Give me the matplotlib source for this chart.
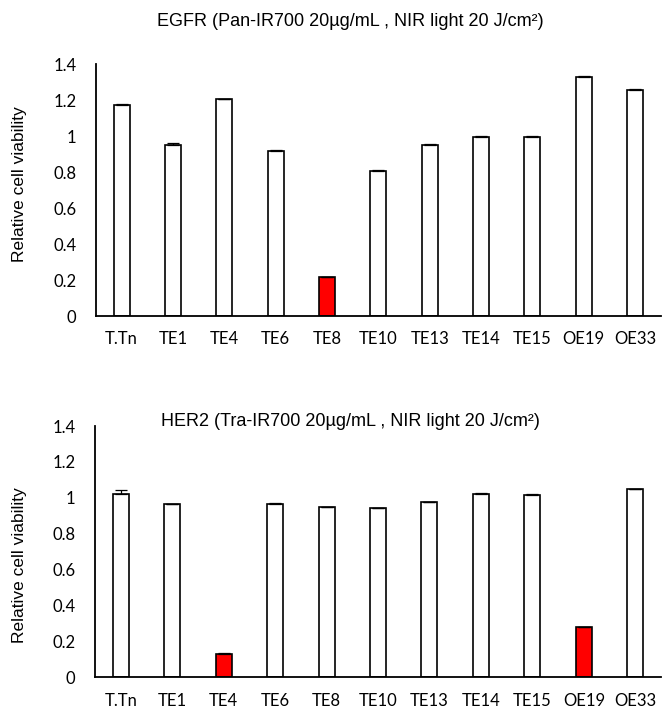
import numpy as np
import matplotlib
matplotlib.use("Agg")
import matplotlib.pyplot as plt

# Cell lines on the x axis (same order for both panels)
cell_lines = ['T.Tn', 'TE1', 'TE4', 'TE6', 'TE8', 'TE10', 'TE13', 'TE14', 'TE15', 'OE19', 'OE33']

# EGFR panel (Pan-IR700)
egfr_values = [1.172, 0.952, 1.205, 0.917, 0.215, 0.804, 0.952, 0.993, 0.996, 1.329, 1.257]
egfr_errors = [0.005, 0.010, 0.003, 0.008, 0.003, 0.006, 0.003, 0.006, 0.003, 0.006, 0.004]
egfr_highlight = ['TE8']

# HER2 panel (Tra-IR700)
her2_values = [1.021, 0.964, 0.130, 0.967, 0.947, 0.941, 0.975, 1.021, 1.016, 0.279, 1.047]
her2_errors = [0.020, 0.002, 0.003, 0.003, 0.004, 0.002, 0.004, 0.005, 0.003, 0.003, 0.002]
her2_highlight = ['TE4', 'OE19']

y_ticks = [0, 0.2, 0.4, 0.6, 0.8, 1, 1.2, 1.4]
y_tick_labels = ['0', '0.2', '0.4', '0.6', '0.8', '1', '1.2', '1.4']

egfr_title = 'EGFR (Pan-IR700 20\u00b5g/mL , NIR light 20 J/cm\u00b2)'
her2_title = 'HER2 (Tra-IR700 20\u00b5g/mL , NIR light 20 J/cm\u00b2)'

TICK_FONT = 'Lato'
TEXT_FONT = 'Liberation Sans'


# Function to draw one bar panel
def draw_panel(ax, values, errors, highlight):
    x = np.arange(len(cell_lines))
    colors = ['#ff0000' if c in highlight else 'white' for c in cell_lines]
    ax.bar(x, values, width=0.31, color=colors, edgecolor='black', linewidth=1.2, zorder=2)
    # only the upper half of the error bar is shown
    ax.errorbar(x, values, yerr=[np.zeros(len(errors)), errors], fmt='none',
                ecolor='black', elinewidth=0.9, capsize=4, capthick=0.9, zorder=3)

    ax.set_xlim(-0.5, len(cell_lines) - 0.5)
    ax.set_ylim(0, 1.4)
    ax.set_xticks(x)
    ax.set_xticklabels(cell_lines, fontfamily=TICK_FONT, fontsize=12)
    ax.set_yticks(y_ticks)
    ax.set_yticklabels(y_tick_labels, fontfamily=TICK_FONT, fontsize=12)
    ax.tick_params(axis='y', length=0, pad=14)
    ax.tick_params(axis='x', length=0, pad=11)

    for side in ['top', 'right']:
        ax.spines[side].set_visible(False)
    for side in ['left', 'bottom']:
        ax.spines[side].set_linewidth(1.3)
        ax.spines[side].set_color('black')


if __name__ == "__main__":
    fig = plt.figure(figsize=(6.62, 7.13), dpi=100)

    ax_top = fig.add_axes([0.145, 0.5568, 0.853, 0.3534])
    ax_bot = fig.add_axes([0.1435, 0.050, 0.855, 0.3525])

    draw_panel(ax_top, egfr_values, egfr_errors, egfr_highlight)
    draw_panel(ax_bot, her2_values, her2_errors, her2_highlight)

    # titles and y labels placed in figure coordinates
    fig.text(0.5287, 0.9696, egfr_title, ha='center', va='center', fontfamily=TEXT_FONT, fontsize=13)
    fig.text(0.530, 0.4086, her2_title, ha='center', va='center', fontfamily=TEXT_FONT, fontsize=13)
    fig.text(0.029, 0.742, 'Relative cell viability', rotation=90, ha='center', va='center',
             fontfamily=TEXT_FONT, fontsize=12.5)
    fig.text(0.029, 0.207, 'Relative cell viability', rotation=90, ha='center', va='center',
             fontfamily=TEXT_FONT, fontsize=12.5)

    fig.savefig('out.png', dpi=100, facecolor='white')
